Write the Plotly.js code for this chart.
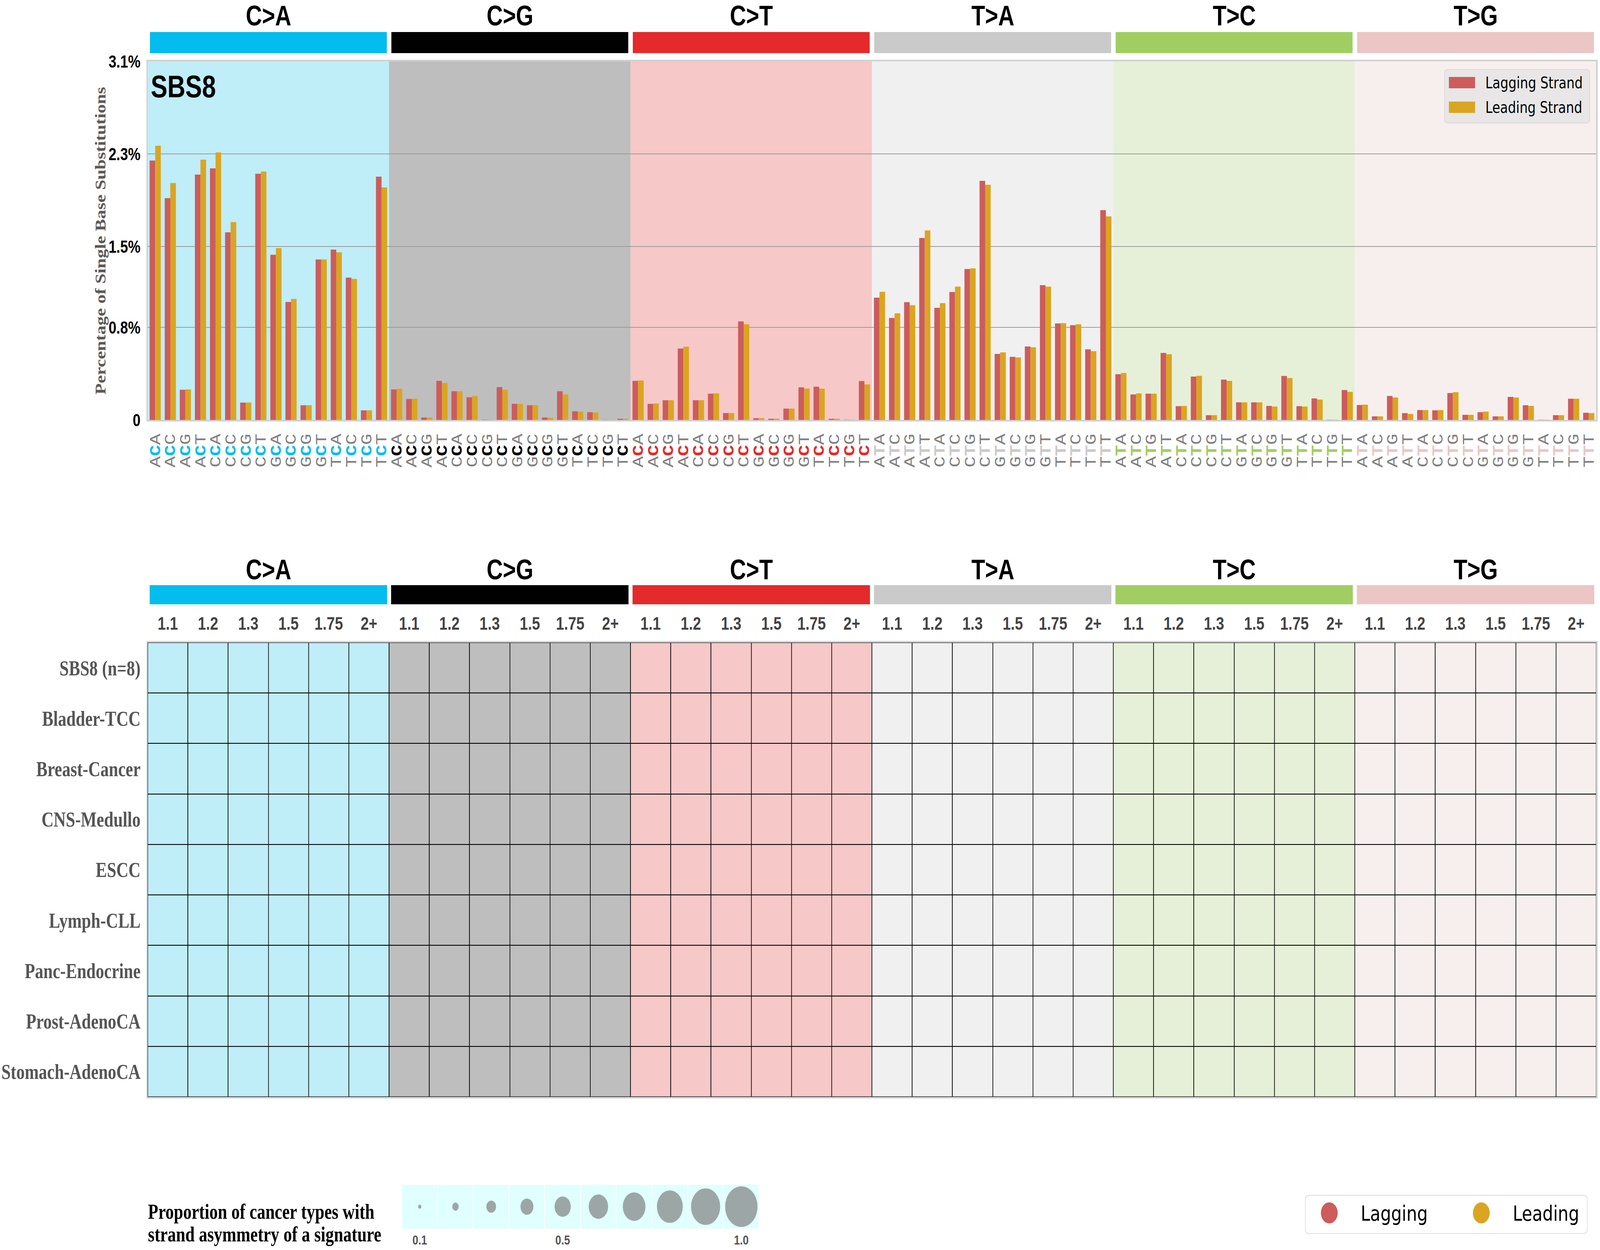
<!DOCTYPE html>
<html>
<head>
<meta charset="utf-8">
<script src="https://cdn.plot.ly/plotly-3.0.1.min.js"></script>
<style>html,body{margin:0;padding:0;background:#fff;overflow:hidden;}#chart{position:absolute;left:0;top:0;width:5136px;height:3200px;transform-origin:0 0;}</style>
</head>
<body>
<div id="chart"></div>
<script>
// ---------------- DATA ----------------
const mutTypes = ['C>A','C>G','C>T','T>A','T>C','T>G'];
const contextsC = ['ACA','ACC','ACG','ACT','CCA','CCC','CCG','CCT','GCA','GCC','GCG','GCT','TCA','TCC','TCG','TCT'];
const contextsT = ['ATA','ATC','ATG','ATT','CTA','CTC','CTG','CTT','GTA','GTC','GTG','GTT','TTA','TTC','TTG','TTT'];

const laggingCA = [2.242,1.917,0.261,2.121,2.175,1.622,0.150,2.128,1.428,1.020,0.127,1.387,1.472,1.230,0.083,2.103];
const leadingCA = [2.371,2.048,0.263,2.250,2.312,1.710,0.150,2.147,1.485,1.046,0.127,1.387,1.449,1.219,0.083,2.010];
const laggingCG = [0.263,0.181,0.021,0.338,0.248,0.196,0.003,0.284,0.139,0.127,0.021,0.248,0.075,0.067,0.002,0.010];
const leadingCG = [0.269,0.183,0.021,0.320,0.248,0.207,0.003,0.261,0.139,0.127,0.018,0.220,0.072,0.065,0.002,0.010];
const laggingCT = [0.338,0.139,0.170,0.617,0.170,0.227,0.059,0.852,0.015,0.010,0.098,0.282,0.287,0.010,0.002,0.336];
const leadingCT = [0.341,0.142,0.170,0.633,0.170,0.230,0.059,0.827,0.015,0.010,0.098,0.271,0.271,0.010,0.002,0.307];
const laggingTA = [1.057,0.881,1.018,1.573,0.969,1.106,1.304,2.067,0.571,0.545,0.635,1.165,0.834,0.819,0.610,1.813];
const leadingTA = [1.108,0.922,0.992,1.638,1.010,1.152,1.310,2.033,0.584,0.540,0.628,1.152,0.837,0.827,0.594,1.759];
const laggingTC = [0.395,0.220,0.227,0.579,0.119,0.375,0.041,0.349,0.152,0.152,0.121,0.380,0.119,0.186,0.002,0.258];
const leadingTC = [0.406,0.230,0.227,0.568,0.121,0.382,0.041,0.338,0.152,0.152,0.116,0.362,0.116,0.176,0.002,0.243];
const laggingTG = [0.129,0.031,0.207,0.059,0.085,0.083,0.232,0.044,0.067,0.031,0.199,0.127,0.002,0.041,0.183,0.062];
const leadingTG = [0.132,0.031,0.194,0.052,0.085,0.085,0.240,0.044,0.072,0.031,0.194,0.121,0.002,0.041,0.183,0.059];

const yTickVals = [0, 0.8, 1.5, 2.3, 3.1];
const yTickText = ['0', '0.8%', '1.5%', '2.3%', '3.1%'];

const ratioLabels = ['1.1','1.2','1.3','1.5','1.75','2+'];
const cancerTypes = ['SBS8 (n=8)','Bladder-TCC','Breast-Cancer','CNS-Medullo','ESCC','Lymph-CLL','Panc-Endocrine','Prost-AdenoCA','Stomach-AdenoCA'];

const sizeLegendValues = [0.1,0.2,0.3,0.4,0.5,0.6,0.7,0.8,0.9,1.0];
const sizeLegendTickIdx = [0, 4, 9];
const sizeLegendTickText = ['0.1','0.5','1.0'];

// ---------------- STYLE ----------------
// the chart is laid out at 5136 x 3200 and the whole drawing is fitted to the real viewport
const W = 5136, H = 3200;
const VW = window.innerWidth || W, VH = window.innerHeight || H;
const el = document.getElementById('chart');
el.style.transform = 'scale(' + (VW / W) + ',' + (VH / H) + ')';
const X = px => px / W;
const Y = py => 1 - py / H;

const mutColors = ['#03bdef','#010101','#e42a2a','#cbcacb','#a1ce63','#ebc6c4'];
const bgColors  = ['#bfedf8','#bebebe','#f6c8c8','#f0f0f0','#e6f0d8','#f7efee'];
const lagColor = '#cd5c5c', leadColor = '#daa520';
const sansBold = 'Liberation Sans, Arial';
const serif = 'Liberation Serif, Times New Roman';

const lagging = [].concat(laggingCA, laggingCG, laggingCT, laggingTA, laggingTC, laggingTG);
const leading = [].concat(leadingCA, leadingCG, leadingCT, leadingTA, leadingTC, leadingTG);
const contexts = [].concat(...mutTypes.map(m => m[0] === 'C' ? contextsC : contextsT));
const idx = contexts.map((_, i) => i);
const tickText = contexts.map((c, i) =>
  c[0] + '<b><span style="color:' + mutColors[Math.floor(i / 16)] + '">' + c[1] + '</span></b>' + c[2]);

const colIdx = [];
const colText = [];
mutTypes.forEach((m, k) => ratioLabels.forEach((r, j) => { colIdx.push(k * ratioLabels.length + j); colText.push(r); }));
const gridZ = cancerTypes.map(() => colIdx.map(c => Math.floor(c / ratioLabels.length)));
const nCols = colIdx.length;

const traces = [
  { type: 'bar', x: idx, y: lagging, name: 'Lagging Strand', marker: { color: lagColor, line: {width: 0} },
    xaxis: 'x', yaxis: 'y', showlegend: false, hoverinfo: 'skip' },
  { type: 'bar', x: idx, y: leading, name: 'Leading Strand', marker: { color: leadColor, line: {width: 0} },
    xaxis: 'x', yaxis: 'y', showlegend: false, hoverinfo: 'skip' },
  { type: 'heatmap', x: colIdx, y: cancerTypes, z: gridZ, xaxis: 'x2', yaxis: 'y2',
    zmin: 0, zmax: 5, showscale: false, xgap: 2.2, ygap: 2.2, hoverinfo: 'skip',
    colorscale: bgColors.map((c, i) => [i / (bgColors.length - 1), c]) },
  { type: 'heatmap', x: sizeLegendValues.map((_, i) => i), y: [0], z: [sizeLegendValues.map(() => 1)],
    xaxis: 'x3', yaxis: 'y3', zmin: 0, zmax: 1, showscale: false, xgap: 3, ygap: 0, hoverinfo: 'skip',
    colorscale: [[0, '#e0ffff'], [1, '#e0ffff']] },
  { type: 'scatter', mode: 'markers', x: sizeLegendValues.map((_, i) => i), y: sizeLegendValues.map(() => 0),
    xaxis: 'x3', yaxis: 'y3', showlegend: false, hoverinfo: 'skip',
    marker: { size: sizeLegendValues.map(v => v * 104), color: '#808080', line: {width: 0} } }
];

const shapes = [];
const annotations = [];

mutTypes.forEach((m, k) => {
  shapes.push({ type: 'rect', xref: 'x', yref: 'y domain', x0: k * 16 - 0.5, x1: k * 16 + 15.5, y0: 0, y1: 1,
    fillcolor: bgColors[k], line: {width: 0}, layer: 'below' });
  shapes.push({ type: 'rect', xref: 'x', yref: 'paper', x0: k * 16 - 0.35, x1: k * 16 + 15.35, y0: Y(136), y1: Y(82),
    fillcolor: mutColors[k], line: {width: 0} });
  annotations.push({ xref: 'x', yref: 'paper', x: k * 16 + 7.5, y: Y(40), text: '<b>' + m + '</b>', showarrow: false,
    xanchor: 'center', yanchor: 'middle', font: { family: sansBold, size: 72, color: '#000' } });
  const n = ratioLabels.length;
  shapes.push({ type: 'rect', xref: 'x2', yref: 'paper', x0: k * n - 0.45, x1: k * n + n - 0.55, y0: Y(1547), y1: Y(1498),
    fillcolor: mutColors[k], line: {width: 0} });
  annotations.push({ xref: 'x2', yref: 'paper', x: k * n + (n - 1) / 2, y: Y(1458), text: '<b>' + m + '</b>', showarrow: false,
    xanchor: 'center', yanchor: 'middle', font: { family: sansBold, size: 72, color: '#000' } });
});

shapes.push({ type: 'rect', xref: 'x2 domain', yref: 'y2 domain', x0: 0, x1: 1, y0: 0, y1: 1,
  fillcolor: '#000', line: {width: 0}, layer: 'below' });

function roundRect(x0, y0, x1, y1, r) {
  const rx = r / W, ry = r / H;
  const a = X(x0), b = X(x1), t = Y(y0), u = Y(y1);
  return `M${a + rx},${t} L${b - rx},${t} Q${b},${t} ${b},${t - ry} L${b},${u + ry} Q${b},${u} ${b - rx},${u} ` +
         `L${a + rx},${u} Q${a},${u} ${a},${u + ry} L${a},${t - ry} Q${a},${t} ${a + rx},${t} Z`;
}

// top legend
shapes.push({ type: 'path', xref: 'paper', yref: 'paper', path: roundRect(4637, 178, 5103, 315, 10),
  fillcolor: '#e8e6e6', line: { color: '#d8d8d8', width: 2 } });
shapes.push({ type: 'rect', xref: 'paper', yref: 'paper', x0: X(4651), x1: X(4735), y0: Y(226), y1: Y(197),
  fillcolor: lagColor, line: {width: 0} });
shapes.push({ type: 'rect', xref: 'paper', yref: 'paper', x0: X(4651), x1: X(4735), y0: Y(289), y1: Y(260),
  fillcolor: leadColor, line: {width: 0} });
annotations.push({ xref: 'paper', yref: 'paper', x: X(4766), y: Y(212), text: 'Lagging Strand', showarrow: false,
  xanchor: 'left', yanchor: 'middle', font: { family: 'DejaVu Sans', size: 41, color: '#000' } });
annotations.push({ xref: 'paper', yref: 'paper', x: X(4766), y: Y(275), text: 'Leading Strand', showarrow: false,
  xanchor: 'left', yanchor: 'middle', font: { family: 'DejaVu Sans', size: 41, color: '#000' } });

annotations.push({ xref: 'paper', yref: 'paper', x: X(482), y: Y(222), text: '<b>SBS8</b>', showarrow: false,
  xanchor: 'left', yanchor: 'middle', font: { family: sansBold, size: 80, color: '#000' } });
annotations.push({ xref: 'paper', yref: 'paper', x: X(323), y: Y(616), text: '<b>Percentage of Single Base Substitutions</b>',
  textangle: -90, showarrow: false, xanchor: 'center', yanchor: 'middle',
  font: { family: serif, size: 47, color: '#5a5a5a' } });

annotations.push({ xref: 'paper', yref: 'paper', x: X(473), y: Y(3102), text: '<b>Proportion of cancer types with</b>',
  showarrow: false, xanchor: 'left', yanchor: 'middle', font: { family: serif, size: 54, color: '#000' } });
annotations.push({ xref: 'paper', yref: 'paper', x: X(473), y: Y(3160), text: '<b>strand asymmetry of a signature</b>',
  showarrow: false, xanchor: 'left', yanchor: 'middle', font: { family: serif, size: 54, color: '#000' } });

// bottom-right legend
shapes.push({ type: 'path', xref: 'paper', yref: 'paper', path: roundRect(4190, 3060, 5095, 3158, 12),
  fillcolor: '#ffffff', line: { color: '#dcdcdc', width: 2 } });
shapes.push({ type: 'circle', xref: 'paper', yref: 'paper', x0: X(4240), x1: X(4294), y0: Y(3132), y1: Y(3078),
  fillcolor: lagColor, line: {width: 0} });
shapes.push({ type: 'circle', xref: 'paper', yref: 'paper', x0: X(4728), x1: X(4782), y0: Y(3132), y1: Y(3078),
  fillcolor: leadColor, line: {width: 0} });
annotations.push({ xref: 'paper', yref: 'paper', x: X(4366), y: Y(3106), text: 'Lagging', showarrow: false,
  xanchor: 'left', yanchor: 'middle', font: { family: 'DejaVu Sans', size: 54, color: '#000' } });
annotations.push({ xref: 'paper', yref: 'paper', x: X(4854), y: Y(3106), text: 'Leading', showarrow: false,
  xanchor: 'left', yanchor: 'middle', font: { family: 'DejaVu Sans', size: 54, color: '#000' } });

const layout = {
  width: W, height: H,
  margin: { l: 0, r: 0, t: 0, b: 0, pad: 0 },
  paper_bgcolor: '#ffffff', plot_bgcolor: '#ffffff',
  barmode: 'group', bargap: 0.26, bargroupgap: 0,
  showlegend: false, hovermode: false,
  xaxis: {
    domain: [X(474), X(5124)], range: [-0.5, idx.length - 0.5], anchor: 'y', automargin: false,
    tickmode: 'array', tickvals: idx, ticktext: tickText, tickangle: -90, ticks: '',
    ticklabelstandoff: 12,
    tickfont: { family: 'Liberation Mono, Courier New, monospace', size: 48, color: '#808080' },
    showgrid: false, zeroline: false, showline: true, mirror: true, linecolor: '#d0d0d0', linewidth: 4
  },
  yaxis: {
    domain: [Y(1075), Y(157)], range: [0, 3.1], anchor: 'x', automargin: false,
    tickmode: 'array', tickvals: yTickVals, ticktext: yTickText, ticks: '', ticklabelstandoff: 10,
    tickfont: { family: sansBold, size: 45, color: '#000', weight: 'bold' },
    showgrid: true, gridcolor: '#9c9c9c', gridwidth: 2, zeroline: false,
    showline: true, mirror: true, linecolor: '#d0d0d0', linewidth: 4
  },
  xaxis2: {
    domain: [X(474), X(5124)], range: [-0.5, nCols - 0.5], anchor: 'y2', side: 'top', automargin: false,
    tickmode: 'array', tickvals: colIdx, ticktext: colText, ticks: '', ticklabelstandoff: 10,
    tickfont: { family: sansBold, size: 47, color: '#444444', weight: 'bold' },
    showgrid: false, zeroline: false, showline: true, mirror: true, linecolor: '#d0d0d0', linewidth: 4
  },
  yaxis2: {
    domain: [Y(2808), Y(1645)], anchor: 'x2', type: 'category', autorange: 'reversed', automargin: false,
    ticks: '', ticklabelstandoff: 8,
    tickfont: { family: serif, size: 54, color: '#555555', weight: 'bold' },
    showgrid: false, zeroline: false, showline: true, mirror: true, linecolor: '#d0d0d0', linewidth: 4
  },
  xaxis3: {
    domain: [X(1290), X(2437)], range: [-0.5, sizeLegendValues.length - 0.5], anchor: 'y3', automargin: false,
    tickmode: 'array', tickvals: sizeLegendTickIdx, ticktext: sizeLegendTickText, ticks: '', ticklabelstandoff: 6,
    tickfont: { family: sansBold, size: 34, color: '#555555', weight: 'bold' },
    showgrid: false, zeroline: false, showline: false
  },
  yaxis3: {
    domain: [Y(3145), Y(3033)], range: [-0.5, 0.5], anchor: 'x3', visible: false
  },
  shapes: shapes,
  annotations: annotations
};

Plotly.newPlot('chart', traces, layout, { displayModeBar: false, staticPlot: true });
</script>
</body>
</html>
